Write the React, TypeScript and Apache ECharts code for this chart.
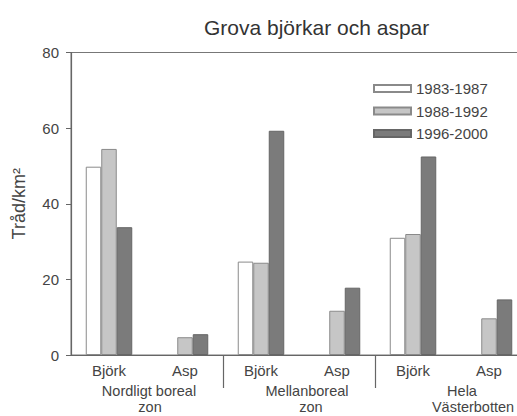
import React, { useEffect, useRef } from "react";
import * as echarts from "echarts";

const categories = ["Björk", "Asp", "Björk", "Asp", "Björk", "Asp"];
const groups = ["Nordligt boreal\nzon", "Mellanboreal\nzon", "Hela\nVästerbotten"];
const seriesNames = ["1983-1987", "1988-1992", "1996-2000"];
const values1983: (number | null)[] = [49.8, null, 24.7, null, 31.0, null];
const values1988: (number | null)[] = [54.5, 4.7, 24.4, 11.7, 32.0, 9.7];
const values1996: (number | null)[] = [33.8, 5.5, 59.3, 17.8, 52.5, 14.7];
const yTicks = { min: 0, max: 80, interval: 20 };

const FONT = "Liberation Sans, Arial, Helvetica, sans-serif";

export default function App() {
  const ref = useRef<HTMLDivElement>(null);
  useEffect(() => {
    document.body.style.margin = "0";
    if (!ref.current) return;
    const chart = echarts.init(ref.current, undefined, { renderer: "svg" });
    const groupFormatter = (v: string) => {
      const lines = v.split("\n");
      if (v.startsWith("Nordligt")) return `{n1|${lines[0]}}\n{n2|${lines[1]}}`;
      if (v.startsWith("Mellan")) return `{m1|${lines[0]}}\n{m2|${lines[1]}}`;
      return `{h1|${lines[0]}}\n{h2|${lines[1]}}`;
    };
    const rs = (pad: number) => ({
      fontSize: 14.5,
      color: "#444",
      fontFamily: FONT,
      lineHeight: 16,
      padding: [0, 0, 0, pad],
    });
    chart.setOption({
      animation: false,
      backgroundColor: "#fff",
      textStyle: { fontFamily: FONT },
      title: {
        text: "Grova björkar och aspar",
        left: 199,
        top: 12,
        textStyle: { fontSize: 21, fontWeight: "normal", color: "#333", fontFamily: FONT },
      },
      legend: {
        data: seriesNames,
        orient: "vertical",
        left: 368,
        top: 76,
        itemWidth: 37,
        itemHeight: 7,
        itemGap: 7.5,
        icon: "rect",
        textStyle: { fontSize: 15, color: "#444", fontFamily: FONT },
      },
      grid: {
        left: 71,
        top: 52.5,
        width: 456,
        height: 302.5,
        outerBoundsMode: "none",
        containLabel: false,
        show: true,
        borderColor: "#777",
        borderWidth: 1,
        backgroundColor: "transparent",
      },
      xAxis: [
        {
          type: "category",
          data: categories,
          axisLine: { lineStyle: { color: "#666", width: 1.2 } },
          axisTick: {
            show: true,
            interval: (i: number) => i === 2 || i === 4,
            length: 33,
            lineStyle: { color: "#666", width: 1.2 },
          },
          axisLabel: { fontSize: 15, color: "#444", margin: 8, interval: 0, fontFamily: FONT },
        },
        {
          type: "category",
          data: groups,
          position: "bottom",
          axisLine: { show: false },
          axisTick: { show: false },
          axisLabel: {
            margin: 28,
            interval: 0,
            formatter: groupFormatter,
            rich: {
              n1: rs(4),
              n2: rs(6),
              m1: rs(16),
              m2: rs(24),
              h1: rs(22),
              h2: rs(44),
            },
          },
        },
      ],
      yAxis: {
        type: "value",
        min: yTicks.min,
        max: yTicks.max,
        interval: yTicks.interval,
        name: "Tråd/km²",
        nameLocation: "middle",
        nameGap: 43,
        nameTextStyle: { fontSize: 18, color: "#444", fontFamily: FONT },
        axisLine: { show: true, lineStyle: { color: "#666", width: 1.2 } },
        axisTick: { show: true, length: 5, lineStyle: { color: "#666" } },
        axisLabel: { fontSize: 15, color: "#444", margin: 12, fontFamily: FONT },
        splitLine: { show: false },
      },
      series: [
        {
          name: seriesNames[0],
          type: "bar",
          data: values1983,
          barWidth: 15.5,
          barGap: "0%",
          itemStyle: { color: "#ffffff", borderColor: "#8a8a8a", borderWidth: 1 },
        },
        {
          name: seriesNames[1],
          type: "bar",
          data: values1988,
          barWidth: 15.5,
          barGap: "0%",
          itemStyle: { color: "#c6c6c6", borderColor: "#8a8a8a", borderWidth: 1 },
        },
        {
          name: seriesNames[2],
          type: "bar",
          data: values1996,
          barWidth: 15.5,
          barGap: "0%",
          itemStyle: { color: "#7b7b7b", borderColor: "#666", borderWidth: 1 },
        },
      ],
    });
    return () => chart.dispose();
  }, []);
  return <div ref={ref} style={{ width: 517, height: 416 }} />;
}
